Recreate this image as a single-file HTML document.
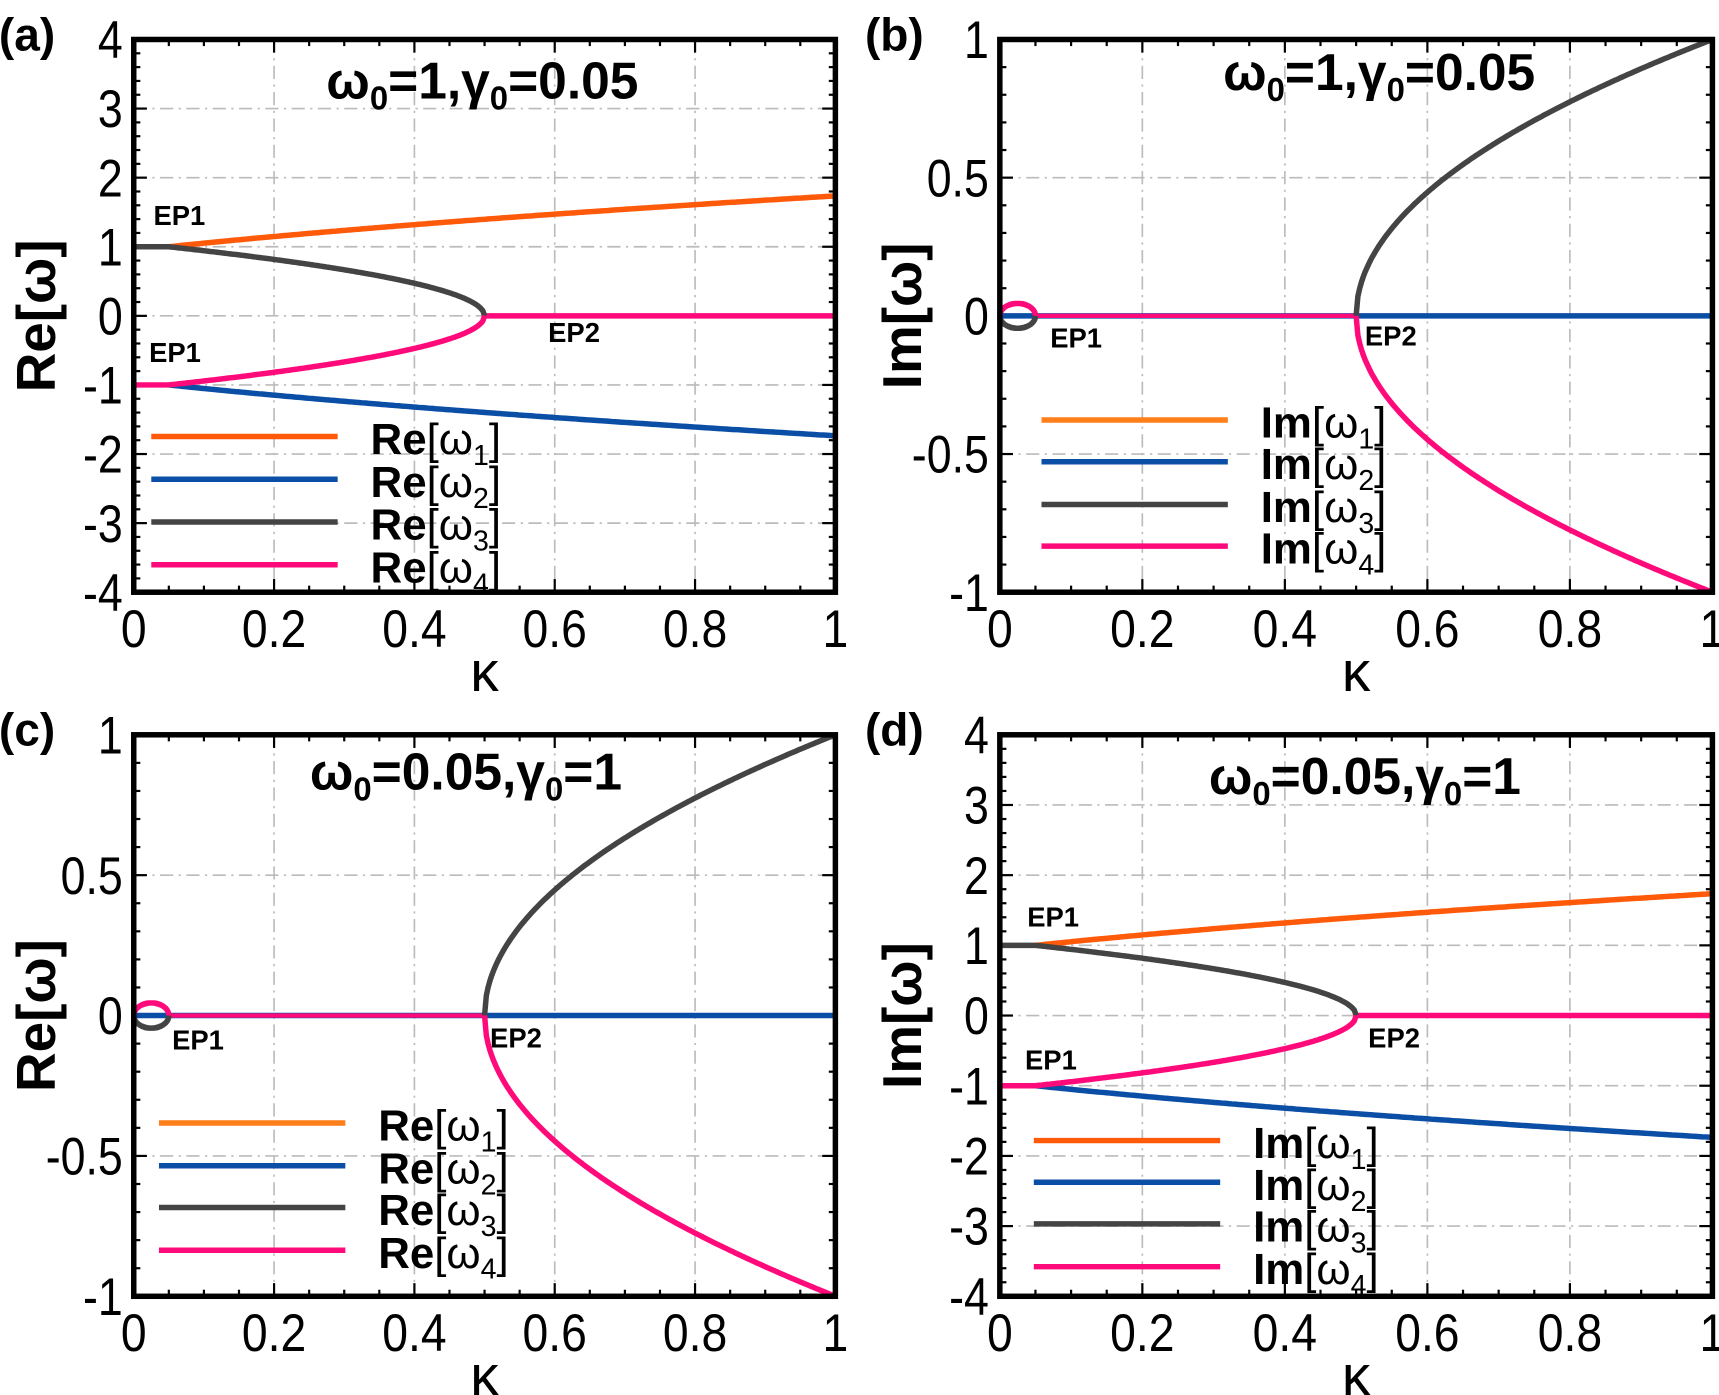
<!DOCTYPE html>
<html><head><meta charset="utf-8"><style>
html,body{margin:0;padding:0;background:#fff;width:1719px;height:1395px;overflow:hidden}
svg{display:block}
text{font-family:"Liberation Sans",sans-serif}
</style></head><body>
<svg id="s" width="1719" height="1395" viewBox="0 0 1568 1272" preserveAspectRatio="none" xmlns="http://www.w3.org/2000/svg"></svg>
<script>
const S=document.getElementById('s');let h='';
const OR='#ff5a0a',OR2='#ff7f1a',BL='#0b4ea6',GR='#444',PK='#ff0a7a';
function panel(o){
 const {L,R,T,B,ymin,ymax,yt,ylab,letter,title,tx,ty}=o;
 const X=k=>L+(R-L)*k, Y=v=>B-(B-T)*(v-ymin)/(ymax-ymin);
 o.X=X;o.Y=Y;
 for(let i=1;i<5;i++)h+=`<line x1="${X(i*0.2)}" y1="${T}" x2="${X(i*0.2)}" y2="${B}" stroke="#bbb" stroke-width="1.5" stroke-dasharray="12,5,2,5"/>`;
 yt.forEach(v=>{if(v>ymin&&v<ymax)h+=`<line x1="${L}" y1="${Y(v)}" x2="${R}" y2="${Y(v)}" stroke="#bbb" stroke-width="1.5" stroke-dasharray="12,5,2,5"/>`});
 for(let i=0;i<=20;i++){const x=X(i/20);const len=i%4==0?12:6;h+=`<line x1="${x}" y1="${B}" x2="${x}" y2="${B-len}" stroke="#000" stroke-width="2"/><line x1="${x}" y1="${T}" x2="${x}" y2="${T+len}" stroke="#000" stroke-width="2"/>`}
 const step=(yt[1]-yt[0])/5;
 for(let v=ymin;v<=ymax+1e-9;v+=step){const y=Y(v);const maj=yt.some(t=>Math.abs(t-v)<1e-6);const len=maj?12:6;h+=`<line x1="${L}" y1="${y}" x2="${L+len}" y2="${y}" stroke="#000" stroke-width="2"/><line x1="${R}" y1="${y}" x2="${R-len}" y2="${y}" stroke="#000" stroke-width="2"/>`}
 o.series(o);
 h+=`<rect x="${L}" y="${T}" width="${R-L}" height="${B-T}" fill="none" stroke="#000" stroke-width="5"/>`;
 yt.forEach(v=>h+=`<text x="${L-10}" y="${Y(v)+17}" font-size="48" text-anchor="end" transform="scale(0.85,1) translate(${(L-10)*(1/0.85-1)},0)">${v}</text>`);
 [0,0.2,0.4,0.6,0.8,1].forEach(k=>h+=`<text x="${X(k)/0.88}" y="${B+50}" font-size="48" text-anchor="middle" transform="scale(0.88,1)">${k}</text>`);
 h+=`<text x="${(L+R)/2}" y="${B+90}" font-size="52" text-anchor="middle" font-family="DejaVu Serif">κ</text>`;
 h+=`<text transform="translate(${L-72},${(T+B)/2}) rotate(-90)" font-size="50" font-weight="bold" text-anchor="middle">${ylab}</text>`;
 h+=`<text x="${L-123}" y="${T+10}" font-size="42" font-weight="bold">(${letter})</text>`;
 h+=`<text x="${tx}" y="${ty}" font-size="47" font-weight="bold" text-anchor="middle">${title}</text>`;
 o.leg.forEach((l,i)=>{h+=`<line x1="${l[0]}" y1="${l[1]}" x2="${l[0]+170}" y2="${l[1]}" stroke="${l[2]}" stroke-width="5"/><text x="${l[0]+200}" y="${l[1]+16}" font-size="40"><tspan font-weight="bold">${l[3]}</tspan>[ω<tspan font-size="26" dy="10">${i+1}</tspan><tspan dy="-10">]</tspan></text>`});
 o.ep.forEach(e=>h+=`<text x="${e[0]}" y="${e[1]}" font-size="25" font-weight="bold">${e[2]}</text>`);
}
function path(o,f,a,b,c,w){let d='';for(let i=0;i<=200;i++){const k=a+(b-a)*i/200;d+=(i?'L':'M')+o.X(k).toFixed(1)+','+o.Y(f(k)).toFixed(1)}h+=`<path d="${d}" fill="none" stroke="${c}" stroke-width="${w||5}"/>`}
function seriesRe(o){
 path(o,k=>0,0.5,1,PK);
 path(o,k=>k<0.05?1:Math.sqrt(1+2*(k-0.05)*1.06),0.05,1,OR);
 path(o,k=>-Math.sqrt(1+2*(k-0.05)*1.06),0.05,1,BL);
 path(o,k=>k<0.05?1:Math.sqrt(Math.max(0,1-(k-0.05)/0.45)),0,0.5,GR);
 path(o,k=>k<0.05?-1:-Math.sqrt(Math.max(0,1-(k-0.05)/0.45)),0,0.5,PK);
}
function seriesIm(o){
 path(o,k=>0,0,1,BL);
 path(o,k=>0,0.05,0.5,PK,4);
 const r=k=>Math.sqrt(Math.max(0,0.000625-(k-0.025)**2))*1.8;
 path(o,k=>r(k),0,0.05,PK);
 path(o,k=>-r(k),0,0.05,GR);
 path(o,k=>Math.sqrt(Math.max(0,2*k-1)),0.5,1,GR);
 path(o,k=>-Math.sqrt(Math.max(0,2*k-1)),0.5,1,PK);
}
panel({L:122,R:762,T:36,B:540,ymin:-4,ymax:4,yt:[-4,-3,-2,-1,0,1,2,3,4],ylab:'Re[ω]',letter:'a',title:'ω<tspan font-size="30" dy="10">0</tspan><tspan dy="-10">=1,γ</tspan><tspan font-size="30" dy="10">0</tspan><tspan dy="-10">=0.05</tspan>',tx:440,ty:90,series:seriesRe,
 leg:[[138,398,OR,'Re'],[138,437,BL,'Re'],[138,476,GR,'Re'],[138,515,PK,'Re']],ep:[[140,205,'EP1'],[136,330,'EP1'],[500,312,'EP2']]});
panel({L:912,R:1562,T:36,B:540,ymin:-1,ymax:1,yt:[-1,-0.5,0,0.5,1],ylab:'Im[ω]',letter:'b',title:'ω<tspan font-size="30" dy="10">0</tspan><tspan dy="-10">=1,γ</tspan><tspan font-size="30" dy="10">0</tspan><tspan dy="-10">=0.05</tspan>',tx:1258,ty:82,series:seriesIm,
 leg:[[950,383,OR2,'Im'],[950,421,BL,'Im'],[950,460,GR,'Im'],[950,498,PK,'Im']],ep:[[958,317,'EP1'],[1245,315,'EP2']]});
panel({L:122,R:762,T:670,B:1182,ymin:-1,ymax:1,yt:[-1,-0.5,0,0.5,1],ylab:'Re[ω]',letter:'c',title:'ω<tspan font-size="30" dy="10">0</tspan><tspan dy="-10">=0.05,γ</tspan><tspan font-size="30" dy="10">0</tspan><tspan dy="-10">=1</tspan>',tx:425,ty:720,series:seriesIm,
 leg:[[145,1024,OR2,'Re'],[145,1063,BL,'Re'],[145,1101,GR,'Re'],[145,1140,PK,'Re']],ep:[[157,957,'EP1'],[447,955,'EP2']]});
panel({L:912,R:1562,T:670,B:1182,ymin:-4,ymax:4,yt:[-4,-3,-2,-1,0,1,2,3,4],ylab:'Im[ω]',letter:'d',title:'ω<tspan font-size="30" dy="10">0</tspan><tspan dy="-10">=0.05,γ</tspan><tspan font-size="30" dy="10">0</tspan><tspan dy="-10">=1</tspan>',tx:1245,ty:724,series:seriesRe,
 leg:[[943,1040,OR,'Im'],[943,1078,BL,'Im'],[943,1116,GR,'Im'],[943,1155,PK,'Im']],ep:[[937,845,'EP1'],[935,975,'EP1'],[1248,955,'EP2']]});
S.innerHTML=h;
</script>
</body></html>
